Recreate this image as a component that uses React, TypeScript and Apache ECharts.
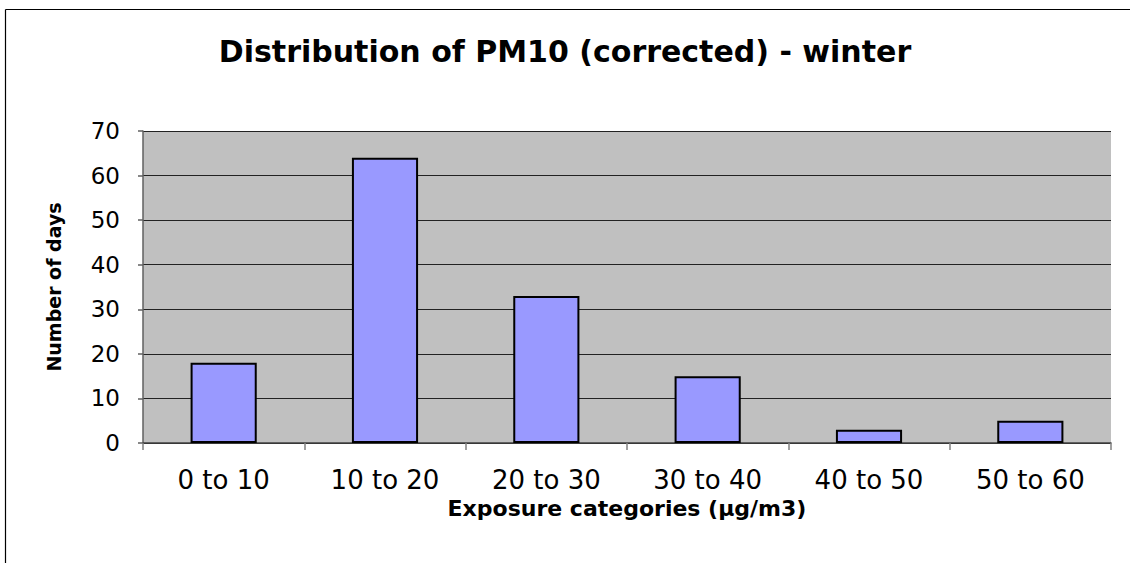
import React, { useEffect, useRef } from "react";
import * as echarts from "echarts";

const categories = ["0 to 10", "10 to 20", "20 to 30", "30 to 40", "40 to 50", "50 to 60"];
const days = [18, 64, 33, 15, 3, 5];
const titleText = "Distribution of PM10 (corrected) - winter";
const xName = "Exposure categories (µg/m3)";
const yName = "Number of days";

const FONT = "'DejaVu Sans', 'Liberation Sans', Arial, sans-serif";

export default function App() {
  const ref = useRef<HTMLDivElement>(null);
  useEffect(() => {
    if (!ref.current) return;
    const chart = echarts.init(ref.current, undefined, { renderer: "svg" });
    chart.setOption({
      animation: false,
      backgroundColor: "#ffffff",
      textStyle: { fontFamily: FONT },
      title: {
        text: titleText,
        left: "center",
        top: 31,
        textStyle: { fontFamily: FONT, fontSize: 30, fontWeight: "bold", color: "#000" },
      },
      graphic: [
        {
          type: "line",
          shape: { x1: 5.5, y1: 9.5, x2: 1130, y2: 9.5 },
          style: { stroke: "#000", lineWidth: 1.2 },
          silent: true,
        },
        {
          type: "line",
          shape: { x1: 5.5, y1: 9.5, x2: 5.5, y2: 563 },
          style: { stroke: "#000", lineWidth: 1.2 },
          silent: true,
        },
      ],
      grid: { left: 143, right: 19, top: 131, bottom: 120, show: true, backgroundColor: "#C0C0C0", borderWidth: 0 },
      xAxis: {
        type: "category",
        data: categories,
        boundaryGap: true,
        name: xName,
        nameLocation: "middle",
        nameGap: 52,
        nameTextStyle: { fontFamily: FONT, fontSize: 22, fontWeight: "bold", color: "#000" },
        axisLine: { show: true, lineStyle: { color: "#404040", width: 1.5 } },
        axisTick: { show: true, alignWithLabel: false, length: 7, lineStyle: { color: "#808080", width: 1.5 } },
        axisLabel: { fontFamily: FONT, fontSize: 26, color: "#000", margin: 24 },
      },
      yAxis: {
        type: "value",
        min: 0,
        max: 70,
        interval: 10,
        name: yName,
        nameLocation: "middle",
        nameGap: 80,
        nameRotate: 90,
        nameTextStyle: { fontFamily: FONT, fontSize: 19, fontWeight: "bold", color: "#000" },
        axisLine: { show: true, lineStyle: { color: "#606060", width: 1.5 } },
        axisTick: { show: true, length: 5, lineStyle: { color: "#606060", width: 1.5 } },
        axisLabel: { fontFamily: FONT, fontSize: 23, color: "#000", margin: 23 },
        splitLine: { show: true, lineStyle: { color: "#222", width: 1 } },
      },
      series: [
        {
          type: "bar",
          data: days,
          barWidth: "41%",
          itemStyle: { color: "#9999FF", borderColor: "#000", borderWidth: 2 },
        },
      ],
    });
    return () => chart.dispose();
  }, []);
  return (
    <div
      ref={ref}
      style={{ position: "fixed", left: 0, top: 0, width: 1130, height: 563 }}
    />
  );
}
